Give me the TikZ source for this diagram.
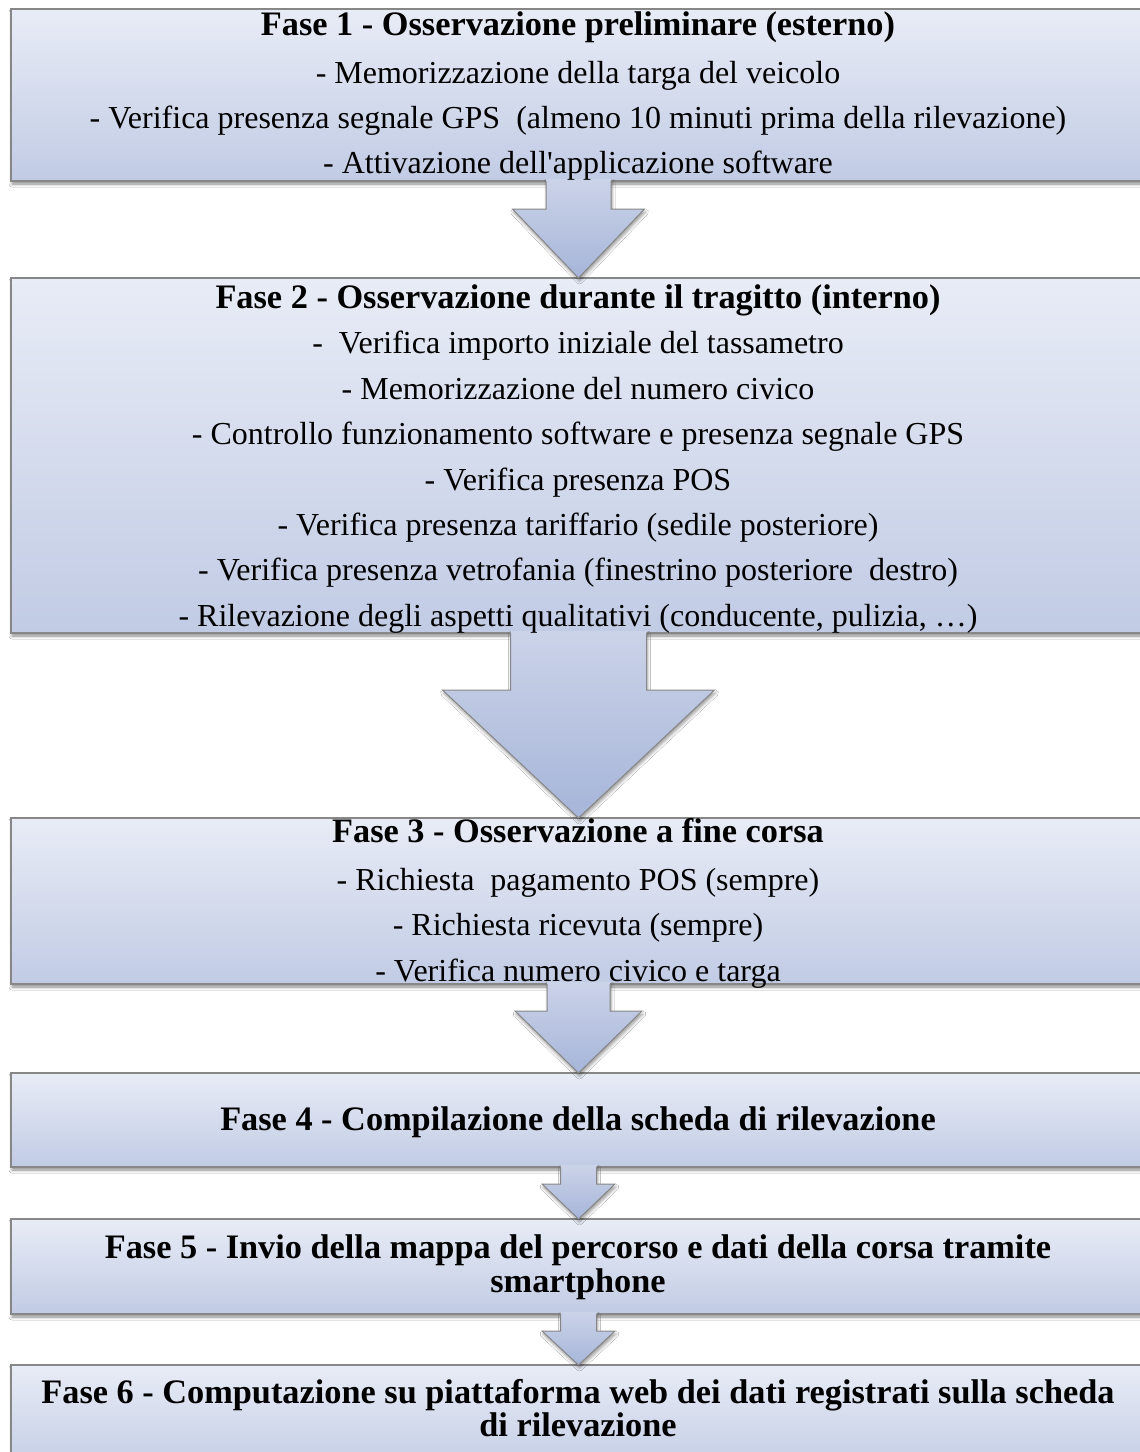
\documentclass[tikz,border=0pt]{standalone}
\usepackage{fontspec}
\setmainfont{Liberation Serif}
\usetikzlibrary{calc,shadows.blur}
\definecolor{boxtop}{RGB}{232,236,246}
\definecolor{boxbot}{RGB}{193,203,228}
\definecolor{arrtop}{RGB}{203,211,232}
\definecolor{arrbot}{RGB}{166,181,217}
\definecolor{edgecol}{RGB}{135,135,135}
\tikzset{
  phase/.style={draw=edgecol, line width=1.3pt, top color=boxtop, bottom color=boxbot,
    blur shadow={shadow xshift=1pt, shadow yshift=-3pt, shadow blur radius=3pt, shadow opacity=45},
    inner sep=0pt, outer sep=0pt, anchor=north west},
  txt/.style={font=\fontsize{32}{38}\selectfont, anchor=base, inner sep=0pt},
  head/.style={font=\fontsize{34.3}{40}\selectfont\bfseries, anchor=base, inner sep=0pt},
  blockarrow/.style={top color=arrtop, bottom color=arrbot,
    blur shadow={shadow xshift=1pt, shadow yshift=-3pt, shadow blur radius=3pt, shadow opacity=40}},
  arrowedge/.style={draw=edgecol, line width=1pt, line join=miter},
}
% #1 source box, #2 target box, #3 half stem width, #4 stem length, #5 half head width
\newcommand{\blkarrow}[5]{%
  \path[blockarrow] ($(#1.south)+(-#3,-2)$) -- ($(#1.south)+(-#3,#4)$) -- ($(#1.south)+(-#5,#4)$)
    -- (#2.north) -- ($(#1.south)+(#5,#4)$) -- ($(#1.south)+(#3,#4)$) -- ($(#1.south)+(#3,-2)$) -- cycle;
  \draw[arrowedge] ($(#1.south)+(-#3,0)$) -- ($(#1.south)+(-#3,#4)$) -- ($(#1.south)+(-#5,#4)$)
    -- (#2.north) -- ($(#1.south)+(#5,#4)$) -- ($(#1.south)+(#3,#4)$) -- ($(#1.south)+(#3,0)$);
}
\begin{document}
\begin{tikzpicture}[x=1pt,y=-1pt]
\clip (0,0) rectangle (1140,1452);
\fill[white] (0,0) rectangle (1140,1452);
% boxes
\node[phase, minimum width=1135pt, minimum height=172pt] (b1) at (11,9) {};
\node[phase, minimum width=1135pt, minimum height=355pt] (b2) at (11,278) {};
\node[phase, minimum width=1135pt, minimum height=166pt] (b3) at (11,818) {};
\node[phase, minimum width=1135pt, minimum height=94pt] (b4) at (11,1073) {};
\node[phase, minimum width=1135pt, minimum height=95pt] (b5) at (11,1219) {};
\node[phase, minimum width=1135pt, minimum height=110pt] (b6) at (11,1365) {};
% arrows
\blkarrow{b1}{b2}{32.5}{28}{66}
\blkarrow{b2}{b3}{68}{57}{136}
\blkarrow{b3}{b4}{31.5}{27}{63.5}
\blkarrow{b4}{b5}{18}{17}{36.5}
\blkarrow{b5}{b6}{18}{17}{36.5}
% texts
\node[head] (t11) at (578,35) {Fase 1 - Osservazione preliminare (esterno)};
\node[txt] (t12) at (578,83) {- Memorizzazione della targa del veicolo};
\node[txt] (t13) at (578,128) {- Verifica presenza segnale GPS~ (almeno 10 minuti prima della rilevazione)};
\node[txt] (t14) at (578,173) {- Attivazione dell\textquotesingle applicazione software};
\node[head] (t21) at (578,308) {Fase 2 - Osservazione durante il tragitto (interno)};
\node[txt] (t22) at (578,353) {-~ Verifica importo iniziale del tassametro};
\node[txt] (t23) at (578,399) {- Memorizzazione del numero civico};
\node[txt] (t24) at (578,444) {- Controllo funzionamento software e presenza segnale GPS};
\node[txt] (t25) at (578,490) {- Verifica presenza POS};
\node[txt] (t26) at (578,535) {- Verifica presenza tariffario (sedile posteriore)};
\node[txt] (t27) at (578,580) {- Verifica presenza vetrofania (finestrino posteriore~ destro)};
\node[txt] (t28) at (578,626) {- Rilevazione degli aspetti qualitativi (conducente, pulizia, …)};
\node[head] (t31) at (578,842) {Fase 3 - Osservazione a fine corsa};
\node[txt] (t32) at (578,890) {- Richiesta~ pagamento POS (sempre)};
\node[txt] (t33) at (578,935) {- Richiesta ricevuta (sempre)};
\node[txt] (t34) at (578,981) {- Verifica numero civico e targa};
\node[head] (t41) at (578,1130) {Fase 4 - Compilazione della scheda di rilevazione};
\node[head] (t51) at (578,1258) {Fase 5 - Invio della mappa del percorso e dati della corsa tramite};
\node[head] (t52) at (578,1292) {smartphone};
\node[head] (t61) at (578,1403) {Fase 6 - Computazione su piattaforma web dei dati registrati sulla scheda};
\node[head] (t62) at (578,1436) {di rilevazione};
\end{tikzpicture}
\end{document}
